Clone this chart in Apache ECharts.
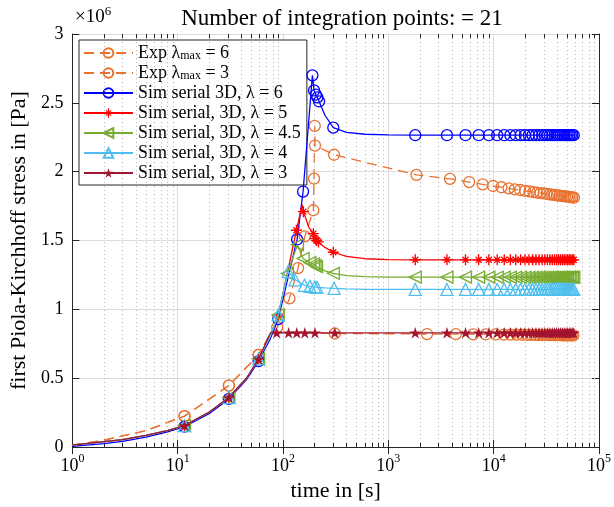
<!DOCTYPE html>
<html>
<head>
<meta charset="utf-8">
<script src="https://cdn.jsdelivr.net/npm/echarts@6/dist/echarts.min.js"></script>
<style>
html, body { margin: 0; padding: 0; background: #fff; }
#chart { width: 614px; height: 507px; }
</style>
</head>
<body>
<div id="chart"></div>
<script>
// ---------------- data (time in s, stress in 1e6 Pa) ----------------
const titleText = 'Number of integration points: = 21';
const xName = 'time in [s]';
const yName = 'first Piola-Kirchhoff stress in [Pa]';
const yTicks = [0, 0.5, 1, 1.5, 2, 2.5, 3];
const xDecades = [1, 10, 100, 1000, 10000, 100000];

const seriesNames = [
  'Exp λmax = 6', 'Exp λmax = 3',
  'Sim serial 3D, λ = 6', 'Sim serial, 3D, λ = 5', 'Sim serial, 3D, λ = 4.5',
  'Sim serial, 3D, λ = 4', 'Sim serial, 3D, λ = 3'
];

// relaxation sample times of the simulations
const simHoldT = [1800, 3600, 5400, 7200, 9000, 10800, 12600, 14400, 16200, 18000,
  19800, 21600, 23400, 25200, 27000, 28800, 30600, 32400, 34200, 36000, 37800,
  39600, 41400, 43200, 45000, 46800, 48600, 50400, 52200, 54000, 55800, 57600];

// experiment, stretch 6
const exp6T = [1, 2, 5, 11.6, 30.6, 58.6, 88, 115, 139, 161, 194, 197, 200, 201, 305,
  1850, 3850, 5850, 7850, 9850, 11850, 13850, 15850, 17850, 19850, 21850, 23850,
  25850, 27850, 29850, 31850, 33850, 35850, 37850, 39850, 41850, 43850, 45850,
  47850, 49850, 51850, 53850, 55850, 57850];
const exp6V = [0.015, 0.05, 0.12, 0.225, 0.447, 0.67, 0.87, 1.08, 1.30, 1.53, 1.72, 1.95, 2.333, 2.19, 2.123,
  1.977, 1.948, 1.925, 1.908, 1.896, 1.887, 1.879, 1.872, 1.867, 1.861, 1.857, 1.852,
  1.848, 1.845, 1.842, 1.839, 1.836, 1.833, 1.831, 1.829, 1.826, 1.824, 1.822,
  1.821, 1.819, 1.817, 1.815, 1.814, 1.812];
const exp6Bare = [1, 2, 5];

// experiment, stretch 3
const exp3T = [1, 2, 5, 11.6, 30.6, 58.6, 76, 310,
  2330, 4360, 6390, 8420, 10450, 12480, 14510, 16540, 18570, 20600, 22630, 24660,
  26690, 28720, 30750, 32780, 34810, 36840, 38870, 40900, 42930, 44960, 46990,
  49020, 51050, 53080, 55110, 57140];
const exp3V = [0.015, 0.05, 0.12, 0.225, 0.447, 0.67, 0.83, 0.825,
  0.821, 0.82, 0.819, 0.818, 0.818, 0.817, 0.817, 0.816, 0.816, 0.815, 0.815, 0.815,
  0.814, 0.814, 0.814, 0.814, 0.813, 0.813, 0.813, 0.813, 0.813, 0.812, 0.812,
  0.812, 0.812, 0.812, 0.812, 0.812];
const exp3Bare = [1, 2, 5, 76];

// simulation, stretch 6
const sim6T = [1, 2, 3, 5, 8, 11.6, 20, 30.6, 45, 58.6, 75, 90, 136, 155, 190, 197, 205, 212, 220, 250, 300, 400, 600, 1000].concat(simHoldT);
const sim6V = [0.005, 0.025, 0.042, 0.072, 0.11, 0.148, 0.245, 0.35, 0.49, 0.625, 0.78, 0.93, 1.508, 1.856, 2.70, 2.59, 2.56, 2.54, 2.51, 2.41, 2.32, 2.285, 2.272, 2.267,
  2.265, 2.265, 2.265, 2.265, 2.265, 2.265, 2.265, 2.265, 2.265, 2.265, 2.265, 2.265, 2.265, 2.265, 2.265, 2.265,
  2.265, 2.265, 2.265, 2.265, 2.265, 2.265, 2.265, 2.265, 2.265, 2.265, 2.265, 2.265, 2.265, 2.265, 2.265, 2.265];
const sim6Bare = [1, 2, 3, 5, 8, 20, 45, 75, 250, 400, 600, 1000];

// simulation, stretch 5
const sim5T = [1, 2, 3, 5, 8, 11.6, 20, 30.6, 45, 58.6, 75, 90, 134, 152, 156, 175, 194, 201, 208, 217, 250, 300, 400, 600, 1000].concat(simHoldT);
const sim5V = [0.015, 0.04, 0.055, 0.085, 0.12, 0.156, 0.255, 0.36, 0.5, 0.64, 0.8, 0.95, 1.575, 1.76, 1.71, 1.6, 1.55, 1.515, 1.50, 1.49, 1.45, 1.415, 1.385, 1.368, 1.362,
  1.36, 1.36, 1.36, 1.36, 1.36, 1.36, 1.36, 1.36, 1.36, 1.36, 1.36, 1.36, 1.36, 1.36, 1.36, 1.36,
  1.36, 1.36, 1.36, 1.36, 1.36, 1.36, 1.36, 1.36, 1.36, 1.36, 1.36, 1.36, 1.36, 1.36, 1.36, 1.36];
const sim5Bare = [1, 2, 3, 5, 8, 20, 45, 75, 152, 175, 250, 400, 600, 1000];

// simulation, stretch 4.5
const sim45T = [1, 2, 3, 5, 8, 11.6, 20, 30.6, 45, 58.6, 75, 90, 110, 137, 155, 180, 194, 201, 208, 250, 300, 400, 600, 1000].concat(simHoldT);
const sim45V = [0.015, 0.04, 0.055, 0.085, 0.12, 0.156, 0.255, 0.36, 0.5, 0.64, 0.8, 0.96, 1.26, 1.47, 1.37, 1.34, 1.33, 1.32, 1.31, 1.28, 1.262, 1.245, 1.238, 1.235,
  1.234, 1.234, 1.234, 1.234, 1.234, 1.234, 1.234, 1.234, 1.234, 1.234, 1.234, 1.234, 1.234, 1.234, 1.234, 1.234,
  1.234, 1.234, 1.234, 1.234, 1.234, 1.234, 1.234, 1.234, 1.234, 1.234, 1.234, 1.234, 1.234, 1.234, 1.234, 1.234];
const sim45Bare = [1, 2, 3, 5, 8, 20, 45, 75, 250, 400, 600, 1000];

// simulation, stretch 4
const sim4T = [1, 2, 3, 5, 8, 11.6, 20, 30.6, 45, 58.6, 75, 90, 112, 130, 160, 180, 200, 210, 250, 305, 400, 600, 1000].concat(simHoldT);
const sim4V = [0.015, 0.04, 0.055, 0.085, 0.12, 0.156, 0.255, 0.36, 0.5, 0.64, 0.8, 0.96, 1.275, 1.215, 1.175, 1.167, 1.163, 1.16, 1.156, 1.153, 1.149, 1.146, 1.145,
  1.145, 1.145, 1.145, 1.145, 1.145, 1.145, 1.145, 1.145, 1.145, 1.145, 1.145, 1.145, 1.145, 1.145, 1.145, 1.145,
  1.145, 1.145, 1.145, 1.145, 1.145, 1.145, 1.145, 1.145, 1.145, 1.145, 1.145, 1.145, 1.145, 1.145, 1.145, 1.145];
const sim4Bare = [1, 2, 3, 5, 8, 20, 45, 75, 250, 400, 600, 1000];

// simulation, stretch 3
const sim3T = [1, 2, 3, 5, 8, 11.6, 20, 30.6, 45, 58.6, 76, 87, 113, 135, 161, 201, 310].concat(simHoldT);
const sim3V = [0.015, 0.04, 0.055, 0.085, 0.12, 0.156, 0.255, 0.36, 0.5, 0.64, 0.83, 0.83, 0.83, 0.83, 0.83, 0.83, 0.83,
  0.83, 0.83, 0.83, 0.83, 0.83, 0.83, 0.83, 0.83, 0.83, 0.83, 0.83, 0.83, 0.83, 0.83, 0.83, 0.83,
  0.83, 0.83, 0.83, 0.83, 0.83, 0.83, 0.83, 0.83, 0.83, 0.83, 0.83, 0.83, 0.83, 0.83, 0.83, 0.83];
const sim3Bare = [1, 2, 3, 5, 8, 20, 45, 76];

// ---------------- styling ----------------
const FONT = 'Liberation Serif';
const AXIS = '#262626';
const colors = ['#E9712F', '#E9712F', '#0000FF', '#FF0000', '#77AC30', '#4DBEEE', '#A2142F'];

const ASTERISK = 'path://M8.9,1 L11.1,1 L11.1,19 L8.9,19 Z M1,8.9 L19,8.9 L19,11.1 L1,11.1 Z ' +
  'M4.3,5.8 L5.8,4.3 L15.7,14.2 L14.2,15.7 Z M14.2,4.3 L15.7,5.8 L5.8,15.7 L4.3,14.2 Z';
const STAR = 'path://M10,0 L12.245,6.91 L19.511,6.91 L13.633,11.18 L15.878,18.09 L10,13.82 ' +
  'L4.122,18.09 L6.367,11.18 L0.489,6.91 L7.755,6.91 Z';

function points(t, v, bare) {
  return t.map((x, i) => bare.indexOf(x) >= 0
    ? { value: [x, v[i]], symbol: 'none' }
    : { value: [x, v[i]] });
}

function lineSeries(idx, t, v, bare, marker) {
  const c = colors[idx];
  return Object.assign({
    name: seriesNames[idx],
    type: 'line',
    data: points(t, v, bare),
    color: c,
    showSymbol: true,
    symbolKeepAspect: true,
    lineStyle: { color: c, width: 1.3, type: idx < 2 ? [10, 6] : 'solid' },
    emphasis: { disabled: true },
    z: 3 + idx
  }, marker(c));
}

const hollow = (shape, size, rot) => c => ({
  symbol: shape, symbolSize: size, symbolRotate: rot || 0,
  itemStyle: { color: 'rgba(255,255,255,0)', borderColor: c, borderWidth: 1.3 }
});
const solid = (shape, size) => c => ({
  symbol: shape, symbolSize: size,
  itemStyle: { color: c, borderWidth: 0 }
});

// log-axis minor positions 2..9 per decade
const minorX = [];
for (let k = 0; k < 5; k++) for (let m = 2; m <= 9; m++) minorX.push(m * Math.pow(10, k));

const minorGrid = minorX.map(x => ({ xAxis: x }));
const minorTicks = [];
minorX.forEach(x => {
  minorTicks.push([{ coord: [x, 0] }, { coord: [x, 0.03] }]);
  minorTicks.push([{ coord: [x, 3] }, { coord: [x, 2.97] }]);
});

const legendRich = {
  n: { fontFamily: FONT, fontSize: 18, lineHeight: 18, color: '#000', verticalAlign: 'middle' },
  sub: { fontFamily: FONT, fontSize: 12, lineHeight: 11, color: '#000', verticalAlign: 'bottom' }
};
function legendLabel(name) {
  const m = name.match(/^(.*λ)max(.*)$/);
  if (m) return '{n|' + m[1] + '}{sub|max}{n|' + m[2] + '}';
  return '{n|' + name + '}';
}

const chart = echarts.init(document.getElementById('chart'), null, { renderer: 'canvas' });

chart.setOption({
  animation: false,
  backgroundColor: '#fff',
  title: {
    text: titleText,
    left: 337, textAlign: 'center', top: 2,
    textStyle: { fontFamily: FONT, fontSize: 23, fontWeight: 'normal', color: '#000' }
  },
  graphic: [{
    type: 'text', left: 75, top: 5,
    style: {
      text: '{b|×10}{s|6}',
      rich: {
        b: { fontFamily: FONT, fontSize: 19, lineHeight: 22, verticalAlign: 'bottom', fill: '#000' },
        s: { fontFamily: FONT, fontSize: 13, lineHeight: 13, verticalAlign: 'top', fill: '#000' }
      }
    }
  }],
  grid: { left: 71, right: 11, top: 34, bottom: 57, containLabel: false },
  legend: {
    data: seriesNames,
    orient: 'vertical',
    left: 79, top: 40,
    backgroundColor: '#fff',
    borderColor: AXIS, borderWidth: 1,
    padding: [4, 6, 3, 4],
    itemWidth: 49, itemHeight: 12, itemGap: 2,
    selectedMode: false,
    formatter: legendLabel,
    textStyle: { fontFamily: FONT, fontSize: 18, color: '#000', rich: legendRich }
  },
  xAxis: [{
    type: 'log', logBase: 10, min: xDecades[0], max: xDecades[xDecades.length - 1],
    name: xName, nameLocation: 'middle', nameGap: 30,
    nameTextStyle: { fontFamily: FONT, fontSize: 22, color: '#000' },
    axisLine: { lineStyle: { color: AXIS, width: 1 } },
    axisTick: { inside: true, length: 7, lineStyle: { color: AXIS } },
    axisLabel: {
      margin: 6,
      formatter: v => '{b|10}{e|' + Math.round(Math.log10(v)) + '}',
      rich: {
        b: { fontFamily: FONT, fontSize: 18, lineHeight: 22, verticalAlign: 'bottom', color: '#000' },
        e: { fontFamily: FONT, fontSize: 12, lineHeight: 12, verticalAlign: 'top', color: '#000' }
      }
    },
    splitLine: { show: true, lineStyle: { color: '#dcdcdc', width: 1 } }
  }, {
    type: 'log', logBase: 10, min: xDecades[0], max: xDecades[xDecades.length - 1],
    position: 'top',
    axisLine: { show: true, lineStyle: { color: AXIS, width: 1 } },
    axisTick: { inside: true, length: 7, lineStyle: { color: AXIS } },
    axisLabel: { show: false },
    splitLine: { show: false }
  }],
  yAxis: [{
    type: 'value', min: yTicks[0], max: yTicks[yTicks.length - 1], interval: 0.5,
    name: yName, nameLocation: 'middle', nameGap: 40,
    nameTextStyle: { fontFamily: FONT, fontSize: 22, color: '#000' },
    axisLine: { show: true, lineStyle: { color: AXIS, width: 1 } },
    axisTick: { show: true, inside: true, length: 7, lineStyle: { color: AXIS } },
    axisLabel: { margin: 9, fontFamily: FONT, fontSize: 18, color: '#000', formatter: v => String(v) },
    splitLine: { show: true, lineStyle: { color: '#dcdcdc', width: 1 } }
  }, {
    type: 'value', min: yTicks[0], max: yTicks[yTicks.length - 1], interval: 0.5,
    position: 'right',
    axisLine: { show: true, lineStyle: { color: AXIS, width: 1 } },
    axisTick: { show: true, inside: true, length: 7, lineStyle: { color: AXIS } },
    axisLabel: { show: false },
    splitLine: { show: false }
  }],
  series: [
    {
      type: 'line', data: [], silent: true, z: 1,
      markLine: {
        silent: true, symbol: 'none', animation: false,
        label: { show: false },
        lineStyle: { color: '#b4b4b4', width: 1, type: [1, 3] },
        emphasis: { disabled: true },
        data: minorGrid
      }
    },
    {
      type: 'line', data: [], silent: true, z: 2,
      markLine: {
        silent: true, symbol: 'none', animation: false,
        label: { show: false },
        lineStyle: { color: AXIS, width: 1, type: 'solid' },
        emphasis: { disabled: true },
        data: minorTicks
      }
    },
    lineSeries(0, exp6T, exp6V, exp6Bare, hollow('circle', 11)),
    lineSeries(1, exp3T, exp3V, exp3Bare, hollow('circle', 11)),
    lineSeries(2, sim6T, sim6V, sim6Bare, hollow('circle', 11)),
    lineSeries(3, sim5T, sim5V, sim5Bare, solid(ASTERISK, 11)),
    lineSeries(4, sim45T, sim45V, sim45Bare, hollow('triangle', 12, 90)),
    lineSeries(5, sim4T, sim4V, sim4Bare, hollow('triangle', 12)),
    lineSeries(6, sim3T, sim3V, sim3Bare, solid(STAR, 12))
  ]
});
</script>
</body>
</html>
